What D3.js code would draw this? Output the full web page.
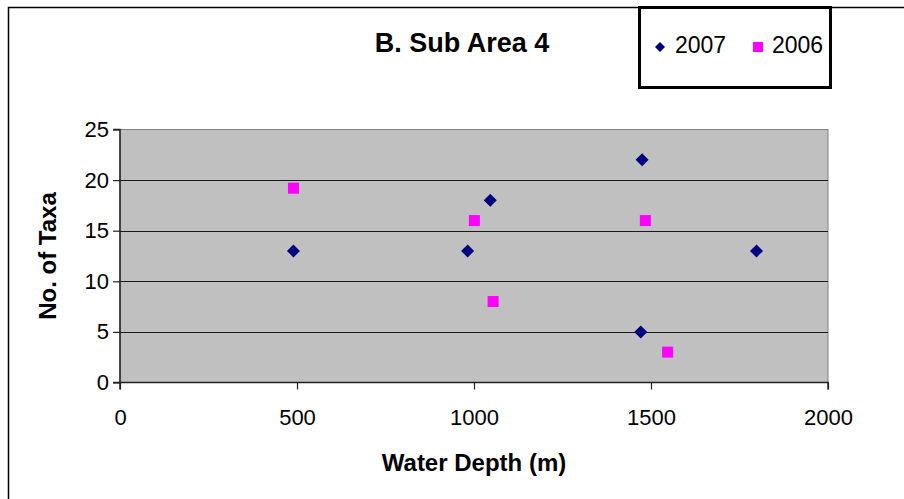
<!DOCTYPE html>
<html>
<head>
<meta charset="utf-8">
<script src="https://cdn.jsdelivr.net/npm/d3@7/dist/d3.min.js"></script>
<style>
  html, body { margin: 0; padding: 0; background: #fff; }
  svg { display: block; font-family: "Liberation Sans", Arial, sans-serif; }
</style>
</head>
<body>
<svg id="chart" width="904" height="499"></svg>
<script>
// Sampling stations: water depth (m) and number of taxa found
const depth2007 = [490, 982, 1046, 1475, 1471, 1798];
const taxa2007  = [13, 13, 18, 22, 5, 13];
const depth2006 = [490, 1001, 1054, 1484, 1547];
const taxa2006  = [19.2, 16, 8, 16, 3];

const xTicks = [0, 500, 1000, 1500, 2000];
const yTicks = [0, 5, 10, 15, 20, 25];
const seriesNames = ["2007", "2006"];
const seriesColors = ["#000080", "#FF00FF"];

const svg = d3.select("#chart");
const W = 904, H = 499;
const plot = { left: 120, right: 828, top: 129.5, bottom: 382.5 };

// Outer chart frame
svg.append("rect")
  .attr("x", 8.5).attr("y", 7.5)
  .attr("width", W + 10).attr("height", H + 10)
  .attr("fill", "#fff").attr("stroke", "#000").attr("stroke-width", 1.5);

const x = d3.scaleLinear().domain([0, 2000]).range([plot.left, plot.right]);
const y = d3.scaleLinear().domain([0, 25]).range([plot.bottom, plot.top]);

// Plot area background
svg.append("rect")
  .attr("x", plot.left).attr("y", plot.top)
  .attr("width", plot.right - plot.left).attr("height", plot.bottom - plot.top)
  .attr("fill", "#C0C0C0").attr("stroke", "#808080").attr("stroke-width", 1);

// Horizontal gridlines
svg.append("g")
  .selectAll("line")
  .data(yTicks.filter(d => d > 0 && d < 25))
  .join("line")
  .attr("x1", plot.left).attr("x2", plot.right)
  .attr("y1", d => Math.round(y(d)) + 0.5).attr("y2", d => Math.round(y(d)) + 0.5)
  .attr("stroke", "#1a1a1a").attr("stroke-width", 1);

// Axes
const xAxis = svg.append("g")
  .attr("transform", `translate(0,${plot.bottom})`)
  .call(d3.axisBottom(x).tickValues(xTicks).tickSize(7).tickPadding(20).tickFormat(d3.format("d")));
const yAxis = svg.append("g")
  .attr("transform", `translate(${plot.left},0)`)
  .call(d3.axisLeft(y).tickValues(yTicks).tickSize(7).tickPadding(4).tickFormat(d3.format("d")));

[xAxis, yAxis].forEach(g => {
  g.select(".domain").attr("stroke", "#222").attr("stroke-width", 1.5);
  g.selectAll(".tick line").attr("stroke", "#222").attr("stroke-width", 1.2);
  g.selectAll(".tick text")
    .attr("fill", "#000")
    .style("font-size", "22px")
    .style("font-family", "'Liberation Sans', Arial, sans-serif");
});
xAxis.select(".domain").attr("d", `M${plot.left},7V0H${plot.right}V7`);
yAxis.select(".domain").attr("d", `M-7,${plot.top}H0V${plot.bottom}H-7`);

// Markers
function diamondPath(r) {
  return `M0,${-r}L${r},0L0,${r}L${-r},0Z`;
}

svg.append("g")
  .selectAll("path")
  .data(depth2007.map((d, i) => [d, taxa2007[i]]))
  .join("path")
  .attr("d", diamondPath(6.5))
  .attr("transform", d => `translate(${x(d[0])},${y(d[1])})`)
  .attr("fill", seriesColors[0]);

svg.append("g")
  .selectAll("rect")
  .data(depth2006.map((d, i) => [d, taxa2006[i]]))
  .join("rect")
  .attr("x", d => x(d[0]) - 5.5).attr("y", d => y(d[1]) - 5.5)
  .attr("width", 11).attr("height", 11)
  .attr("fill", seriesColors[1]);

// Title
svg.append("text")
  .attr("x", 462).attr("y", 52)
  .attr("text-anchor", "middle")
  .style("font-size", "27px").style("font-weight", "bold")
  .text("B. Sub Area 4");

// Axis titles
svg.append("text")
  .attr("x", 474).attr("y", 471)
  .attr("text-anchor", "middle")
  .style("font-size", "24px").style("font-weight", "bold")
  .text("Water Depth (m)");

svg.append("text")
  .attr("transform", "translate(56,256) rotate(-90)")
  .attr("text-anchor", "middle")
  .style("font-size", "24px").style("font-weight", "bold")
  .text("No. of Taxa");

// Legend
const legend = svg.append("g");
legend.append("rect")
  .attr("x", 639.5).attr("y", 7.5).attr("width", 191).attr("height", 80)
  .attr("fill", "#fff").attr("stroke", "#000").attr("stroke-width", 3);

legend.append("path")
  .attr("d", diamondPath(5))
  .attr("transform", "translate(660,47)")
  .attr("fill", seriesColors[0]);
legend.append("text")
  .attr("x", 675).attr("y", 53)
  .style("font-size", "23px")
  .text(seriesNames[0]);

legend.append("rect")
  .attr("x", 753).attr("y", 42).attr("width", 10).attr("height", 10)
  .attr("fill", seriesColors[1]);
legend.append("text")
  .attr("x", 772).attr("y", 53)
  .style("font-size", "23px")
  .text(seriesNames[1]);
</script>
</body>
</html>
